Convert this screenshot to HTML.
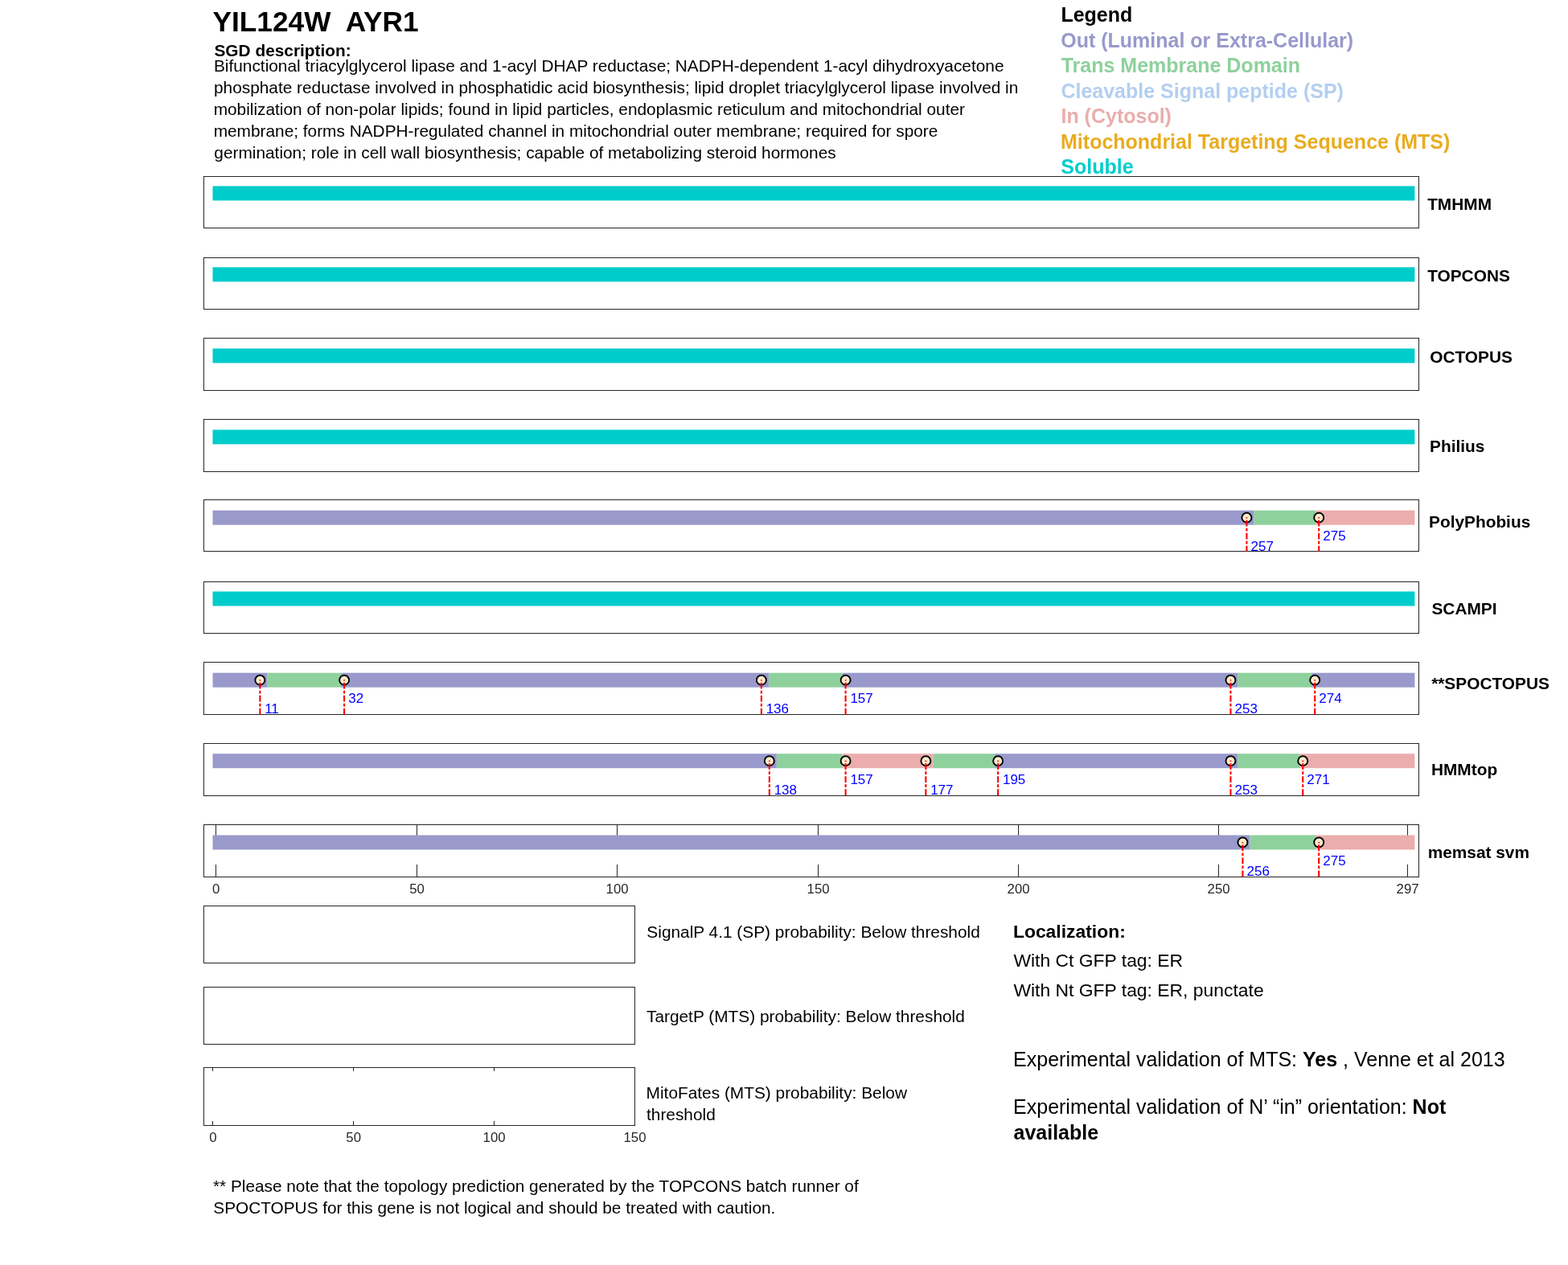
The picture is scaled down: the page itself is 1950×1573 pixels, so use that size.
<!DOCTYPE html>
<html><head><meta charset="utf-8"><title>YIL124W AYR1</title>
<style>
html,body{margin:0;padding:0;background:#fff;}
body{width:1950px;height:1573px;overflow:hidden;}
svg{display:block;font-family:'Liberation Sans', Arial, Helvetica, sans-serif;}
text{white-space:pre;}
</style></head>
<body>
<svg width="1950" height="1573" viewBox="0 0 1950 1573">
<rect x="0" y="0" width="1950" height="1573" fill="#fff"/>
<rect x="253.5" y="219.5" width="1511" height="64" fill="none" stroke="#262626" stroke-width="1"/>
<rect x="253.5" y="320.5" width="1511" height="64" fill="none" stroke="#262626" stroke-width="1"/>
<rect x="253.5" y="420.5" width="1511" height="65" fill="none" stroke="#262626" stroke-width="1"/>
<rect x="253.5" y="521.5" width="1511" height="65" fill="none" stroke="#262626" stroke-width="1"/>
<rect x="253.5" y="621.5" width="1511" height="64" fill="none" stroke="#262626" stroke-width="1"/>
<rect x="253.5" y="723.5" width="1511" height="64" fill="none" stroke="#262626" stroke-width="1"/>
<rect x="253.5" y="823.5" width="1511" height="65" fill="none" stroke="#262626" stroke-width="1"/>
<rect x="253.5" y="924.5" width="1511" height="65" fill="none" stroke="#262626" stroke-width="1"/>
<rect x="253.5" y="1025.5" width="1511" height="65" fill="none" stroke="#262626" stroke-width="1"/>
<rect x="268.00" y="1025.00" width="1.00" height="15.00" fill="#262626"/>
<rect x="268.00" y="1075.00" width="1.00" height="15.00" fill="#262626"/>
<rect x="518.00" y="1025.00" width="1.00" height="15.00" fill="#262626"/>
<rect x="518.00" y="1075.00" width="1.00" height="15.00" fill="#262626"/>
<rect x="767.00" y="1025.00" width="1.00" height="15.00" fill="#262626"/>
<rect x="767.00" y="1075.00" width="1.00" height="15.00" fill="#262626"/>
<rect x="1017.00" y="1025.00" width="1.00" height="15.00" fill="#262626"/>
<rect x="1017.00" y="1075.00" width="1.00" height="15.00" fill="#262626"/>
<rect x="1266.00" y="1025.00" width="1.00" height="15.00" fill="#262626"/>
<rect x="1266.00" y="1075.00" width="1.00" height="15.00" fill="#262626"/>
<rect x="1515.00" y="1025.00" width="1.00" height="15.00" fill="#262626"/>
<rect x="1515.00" y="1075.00" width="1.00" height="15.00" fill="#262626"/>
<rect x="1750.00" y="1025.00" width="1.00" height="15.00" fill="#262626"/>
<rect x="1750.00" y="1075.00" width="1.00" height="15.00" fill="#262626"/>
<rect x="264.50" y="231.40" width="1494.90" height="18.00" fill="#00CCCC"/>
<rect x="264.50" y="332.30" width="1494.90" height="18.00" fill="#00CCCC"/>
<rect x="264.50" y="433.40" width="1494.90" height="18.00" fill="#00CCCC"/>
<rect x="264.50" y="534.40" width="1494.90" height="18.00" fill="#00CCCC"/>
<rect x="1559.42" y="634.70" width="76.78" height="18.00" fill="#8ED19C"/>
<rect x="264.50" y="634.70" width="1294.92" height="18.00" fill="#9999CC"/>
<rect x="1636.20" y="634.70" width="123.20" height="18.00" fill="#EBADAD"/>
<circle cx="1550.42" cy="643.70" r="6.0" fill="#FBEBCD" stroke="#000" stroke-width="1.9"/>
<circle cx="1640.20" cy="643.70" r="6.0" fill="#FBEBCD" stroke="#000" stroke-width="1.9"/>
<line x1="1550.42" y1="643.20" x2="1550.42" y2="685.50" stroke="#FF0000" stroke-width="2.1" stroke-dasharray="7.6 2.3 3.8 2.3" stroke-dashoffset="12.4"/>
<line x1="1640.20" y1="643.20" x2="1640.20" y2="685.50" stroke="#FF0000" stroke-width="2.1" stroke-dasharray="7.6 2.3 3.8 2.3" stroke-dashoffset="12.4"/>
<text x="1555.50" y="685.00" font-size="17" fill="#0000FF">257</text>
<text x="1645.29" y="672.00" font-size="17" fill="#0000FF">275</text>
<rect x="264.50" y="735.50" width="1494.90" height="18.00" fill="#00CCCC"/>
<rect x="332.37" y="836.70" width="91.75" height="18.00" fill="#8ED19C"/>
<rect x="955.87" y="836.70" width="91.75" height="18.00" fill="#8ED19C"/>
<rect x="1539.46" y="836.70" width="91.75" height="18.00" fill="#8ED19C"/>
<rect x="264.50" y="836.70" width="67.87" height="18.00" fill="#9999CC"/>
<rect x="424.12" y="836.70" width="531.75" height="18.00" fill="#9999CC"/>
<rect x="1047.62" y="836.70" width="491.85" height="18.00" fill="#9999CC"/>
<rect x="1631.21" y="836.70" width="128.19" height="18.00" fill="#9999CC"/>
<circle cx="323.37" cy="845.70" r="6.0" fill="#FBEBCD" stroke="#000" stroke-width="1.9"/>
<circle cx="428.12" cy="845.70" r="6.0" fill="#FBEBCD" stroke="#000" stroke-width="1.9"/>
<circle cx="946.87" cy="845.70" r="6.0" fill="#FBEBCD" stroke="#000" stroke-width="1.9"/>
<circle cx="1051.62" cy="845.70" r="6.0" fill="#FBEBCD" stroke="#000" stroke-width="1.9"/>
<circle cx="1530.46" cy="845.70" r="6.0" fill="#FBEBCD" stroke="#000" stroke-width="1.9"/>
<circle cx="1635.21" cy="845.70" r="6.0" fill="#FBEBCD" stroke="#000" stroke-width="1.9"/>
<line x1="323.37" y1="845.20" x2="323.37" y2="888.50" stroke="#FF0000" stroke-width="2.1" stroke-dasharray="7.6 2.3 3.8 2.3" stroke-dashoffset="12.4"/>
<line x1="428.12" y1="845.20" x2="428.12" y2="888.50" stroke="#FF0000" stroke-width="2.1" stroke-dasharray="7.6 2.3 3.8 2.3" stroke-dashoffset="12.4"/>
<line x1="946.87" y1="845.20" x2="946.87" y2="888.50" stroke="#FF0000" stroke-width="2.1" stroke-dasharray="7.6 2.3 3.8 2.3" stroke-dashoffset="12.4"/>
<line x1="1051.62" y1="845.20" x2="1051.62" y2="888.50" stroke="#FF0000" stroke-width="2.1" stroke-dasharray="7.6 2.3 3.8 2.3" stroke-dashoffset="12.4"/>
<line x1="1530.46" y1="845.20" x2="1530.46" y2="888.50" stroke="#FF0000" stroke-width="2.1" stroke-dasharray="7.6 2.3 3.8 2.3" stroke-dashoffset="12.4"/>
<line x1="1635.21" y1="845.20" x2="1635.21" y2="888.50" stroke="#FF0000" stroke-width="2.1" stroke-dasharray="7.6 2.3 3.8 2.3" stroke-dashoffset="12.4"/>
<text x="329.16" y="887.00" font-size="17" fill="#0000FF">11</text>
<text x="433.20" y="874.00" font-size="17" fill="#0000FF">32</text>
<text x="952.66" y="887.00" font-size="17" fill="#0000FF">136</text>
<text x="1057.40" y="874.00" font-size="17" fill="#0000FF">157</text>
<text x="1535.55" y="887.00" font-size="17" fill="#0000FF">253</text>
<text x="1640.30" y="874.00" font-size="17" fill="#0000FF">274</text>
<rect x="965.84" y="937.20" width="81.77" height="18.00" fill="#8ED19C"/>
<rect x="1160.38" y="937.20" width="76.78" height="18.00" fill="#8ED19C"/>
<rect x="1539.46" y="937.20" width="76.78" height="18.00" fill="#8ED19C"/>
<rect x="264.50" y="937.20" width="701.34" height="18.00" fill="#9999CC"/>
<rect x="1047.62" y="937.20" width="112.76" height="18.00" fill="#EBADAD"/>
<rect x="1237.16" y="937.20" width="302.30" height="18.00" fill="#9999CC"/>
<rect x="1616.25" y="937.20" width="143.15" height="18.00" fill="#EBADAD"/>
<circle cx="956.84" cy="946.20" r="6.0" fill="#FBEBCD" stroke="#000" stroke-width="1.9"/>
<circle cx="1051.62" cy="946.20" r="6.0" fill="#FBEBCD" stroke="#000" stroke-width="1.9"/>
<circle cx="1151.38" cy="946.20" r="6.0" fill="#FBEBCD" stroke="#000" stroke-width="1.9"/>
<circle cx="1241.16" cy="946.20" r="6.0" fill="#FBEBCD" stroke="#000" stroke-width="1.9"/>
<circle cx="1530.46" cy="946.20" r="6.0" fill="#FBEBCD" stroke="#000" stroke-width="1.9"/>
<circle cx="1620.25" cy="946.20" r="6.0" fill="#FBEBCD" stroke="#000" stroke-width="1.9"/>
<line x1="956.84" y1="945.70" x2="956.84" y2="989.50" stroke="#FF0000" stroke-width="2.1" stroke-dasharray="7.6 2.3 3.8 2.3" stroke-dashoffset="12.4"/>
<line x1="1051.62" y1="945.70" x2="1051.62" y2="989.50" stroke="#FF0000" stroke-width="2.1" stroke-dasharray="7.6 2.3 3.8 2.3" stroke-dashoffset="12.4"/>
<line x1="1151.38" y1="945.70" x2="1151.38" y2="989.50" stroke="#FF0000" stroke-width="2.1" stroke-dasharray="7.6 2.3 3.8 2.3" stroke-dashoffset="12.4"/>
<line x1="1241.16" y1="945.70" x2="1241.16" y2="989.50" stroke="#FF0000" stroke-width="2.1" stroke-dasharray="7.6 2.3 3.8 2.3" stroke-dashoffset="12.4"/>
<line x1="1530.46" y1="945.70" x2="1530.46" y2="989.50" stroke="#FF0000" stroke-width="2.1" stroke-dasharray="7.6 2.3 3.8 2.3" stroke-dashoffset="12.4"/>
<line x1="1620.25" y1="945.70" x2="1620.25" y2="989.50" stroke="#FF0000" stroke-width="2.1" stroke-dasharray="7.6 2.3 3.8 2.3" stroke-dashoffset="12.4"/>
<text x="962.63" y="988.00" font-size="17" fill="#0000FF">138</text>
<text x="1057.40" y="975.00" font-size="17" fill="#0000FF">157</text>
<text x="1157.16" y="988.00" font-size="17" fill="#0000FF">177</text>
<text x="1246.95" y="975.00" font-size="17" fill="#0000FF">195</text>
<text x="1535.55" y="988.00" font-size="17" fill="#0000FF">253</text>
<text x="1625.34" y="975.00" font-size="17" fill="#0000FF">271</text>
<rect x="1554.43" y="1038.50" width="81.77" height="18.00" fill="#8ED19C"/>
<rect x="264.50" y="1038.50" width="1289.93" height="18.00" fill="#9999CC"/>
<rect x="1636.20" y="1038.50" width="123.20" height="18.00" fill="#EBADAD"/>
<circle cx="1545.43" cy="1047.50" r="6.0" fill="#FBEBCD" stroke="#000" stroke-width="1.9"/>
<circle cx="1640.20" cy="1047.50" r="6.0" fill="#FBEBCD" stroke="#000" stroke-width="1.9"/>
<line x1="1545.43" y1="1047.00" x2="1545.43" y2="1090.50" stroke="#FF0000" stroke-width="2.1" stroke-dasharray="7.6 2.3 3.8 2.3" stroke-dashoffset="12.4"/>
<line x1="1640.20" y1="1047.00" x2="1640.20" y2="1090.50" stroke="#FF0000" stroke-width="2.1" stroke-dasharray="7.6 2.3 3.8 2.3" stroke-dashoffset="12.4"/>
<text x="1550.52" y="1089.00" font-size="17" fill="#0000FF">256</text>
<text x="1645.29" y="1076.00" font-size="17" fill="#0000FF">275</text>
<text x="268.60" y="1111.00" font-size="16.8" text-anchor="middle" fill="#262626">0</text>
<text x="518.60" y="1111.00" font-size="16.8" text-anchor="middle" fill="#262626">50</text>
<text x="767.60" y="1111.00" font-size="16.8" text-anchor="middle" fill="#262626">100</text>
<text x="1017.60" y="1111.00" font-size="16.8" text-anchor="middle" fill="#262626">150</text>
<text x="1266.60" y="1111.00" font-size="16.8" text-anchor="middle" fill="#262626">200</text>
<text x="1515.60" y="1111.00" font-size="16.8" text-anchor="middle" fill="#262626">250</text>
<text x="1750.60" y="1111.00" font-size="16.8" text-anchor="middle" fill="#262626">297</text>
<rect x="253.5" y="1126.5" width="536" height="71" fill="none" stroke="#262626" stroke-width="1"/>
<rect x="253.5" y="1227.5" width="536" height="71" fill="none" stroke="#262626" stroke-width="1"/>
<rect x="253.5" y="1327.5" width="536" height="72" fill="none" stroke="#262626" stroke-width="1"/>
<rect x="264.00" y="1327.00" width="1.00" height="5.00" fill="#262626"/>
<rect x="264.00" y="1394.00" width="1.00" height="5.00" fill="#262626"/>
<text x="264.80" y="1420.00" font-size="16.8" text-anchor="middle" fill="#262626">0</text>
<rect x="439.00" y="1327.00" width="1.00" height="5.00" fill="#262626"/>
<rect x="439.00" y="1394.00" width="1.00" height="5.00" fill="#262626"/>
<text x="439.70" y="1420.00" font-size="16.8" text-anchor="middle" fill="#262626">50</text>
<rect x="614.00" y="1327.00" width="1.00" height="5.00" fill="#262626"/>
<rect x="614.00" y="1394.00" width="1.00" height="5.00" fill="#262626"/>
<text x="614.60" y="1420.00" font-size="16.8" text-anchor="middle" fill="#262626">100</text>
<rect x="789.00" y="1327.00" width="1.00" height="5.00" fill="#262626"/>
<rect x="789.00" y="1394.00" width="1.00" height="5.00" fill="#262626"/>
<text x="789.50" y="1420.00" font-size="16.8" text-anchor="middle" fill="#262626">150</text>
<text x="264.51" y="39.00" font-size="35.25" font-weight="bold" fill="#000">YIL124W  AYR1</text>
<text x="266.47" y="70.00" font-size="20.85" font-weight="bold" fill="#000">SGD description:</text>
<text x="265.97" y="89.00" font-size="20.83" fill="#000">Bifunctional triacylglycerol lipase and 1-acyl DHAP reductase; NADPH-dependent 1-acyl dihydroxyacetone</text>
<text x="266.00" y="116.00" font-size="20.83" fill="#000">phosphate reductase involved in phosphatidic acid biosynthesis; lipid droplet triacylglycerol lipase involved in</text>
<text x="265.70" y="143.00" font-size="20.83" fill="#000">mobilization of non-polar lipids; found in lipid particles, endoplasmic reticulum and mitochondrial outer</text>
<text x="265.70" y="170.00" font-size="20.83" fill="#000">membrane; forms NADPH-regulated channel in mitochondrial outer membrane; required for spore</text>
<text x="266.35" y="197.00" font-size="20.83" fill="#000">germination; role in cell wall biosynthesis; capable of metabolizing steroid hormones</text>
<text x="1319.39" y="27.00" font-size="25" font-weight="bold" fill="#000">Legend</text>
<text x="1319.22" y="59.00" font-size="25" font-weight="bold" fill="#9999CC">Out (Luminal or Extra-Cellular)</text>
<text x="1319.70" y="90.00" font-size="25" font-weight="bold" fill="#8ED19C">Trans Membrane Domain</text>
<text x="1319.42" y="122.00" font-size="25" font-weight="bold" fill="#B3CFF0">Cleavable Signal peptide (SP)</text>
<text x="1319.44" y="153.00" font-size="25" font-weight="bold" fill="#EBADAD">In (Cytosol)</text>
<text x="1319.04" y="185.00" font-size="25" font-weight="bold" fill="#E9AC20">Mitochondrial Targeting Sequence (MTS)</text>
<text x="1319.31" y="216.00" font-size="25" font-weight="bold" fill="#00CCCC">Soluble</text>
<text x="1775.13" y="261.00" font-size="20.85" font-weight="bold" fill="#000">TMHMM</text>
<text x="1775.15" y="350.00" font-size="20.85" font-weight="bold" fill="#000">TOPCONS</text>
<text x="1778.22" y="451.00" font-size="20.85" font-weight="bold" fill="#000">OCTOPUS</text>
<text x="1778.05" y="562.00" font-size="20.85" font-weight="bold" fill="#000">Philius</text>
<text x="1777.00" y="656.00" font-size="20.85" font-weight="bold" fill="#000">PolyPhobius</text>
<text x="1780.45" y="764.00" font-size="20.85" font-weight="bold" fill="#000">SCAMPI</text>
<text x="1780.15" y="857.00" font-size="20.85" font-weight="bold" fill="#000">**SPOCTOPUS</text>
<text x="1779.95" y="964.00" font-size="20.85" font-weight="bold" fill="#000">HMMtop</text>
<text x="1775.66" y="1067.00" font-size="20.85" font-weight="bold" fill="#000">memsat svm</text>
<text x="804.35" y="1166.00" font-size="20.85" fill="#000">SignalP 4.1 (SP) probability: Below threshold</text>
<text x="803.97" y="1271.00" font-size="20.85" fill="#000">TargetP (MTS) probability: Below threshold</text>
<text x="803.61" y="1366.00" font-size="20.85" fill="#000">MitoFates (MTS) probability: Below</text>
<text x="804.00" y="1393.00" font-size="20.85" fill="#000">threshold</text>
<text x="1259.93" y="1166.00" font-size="22.9" font-weight="bold" fill="#000">Localization:</text>
<text x="1260.40" y="1202.00" font-size="22.9" fill="#000">With Ct GFP tag: ER</text>
<text x="1260.40" y="1239.00" font-size="22.9" fill="#000">With Nt GFP tag: ER, punctate</text>
<text x="1260.51" y="1417.00" font-size="25" font-weight="bold" fill="#000">available</text>
<text x="264.97" y="1482.00" font-size="20.8" fill="#000">** Please note that the topology prediction generated by the TOPCONS batch runner of</text>
<text x="265.30" y="1509.00" font-size="20.8" fill="#000">SPOCTOPUS for this gene is not logical and should be treated with caution.</text>
<text x="1260.10" y="1326" font-size="25" fill="#000">Experimental validation of MTS: <tspan font-weight="bold">Yes</tspan> , Venne et al 2013</text>
<text x="1260.06" y="1385" font-size="25" fill="#000">Experimental validation of N’ “in” orientation: <tspan font-weight="bold">Not</tspan></text>
</svg>
</body></html>
